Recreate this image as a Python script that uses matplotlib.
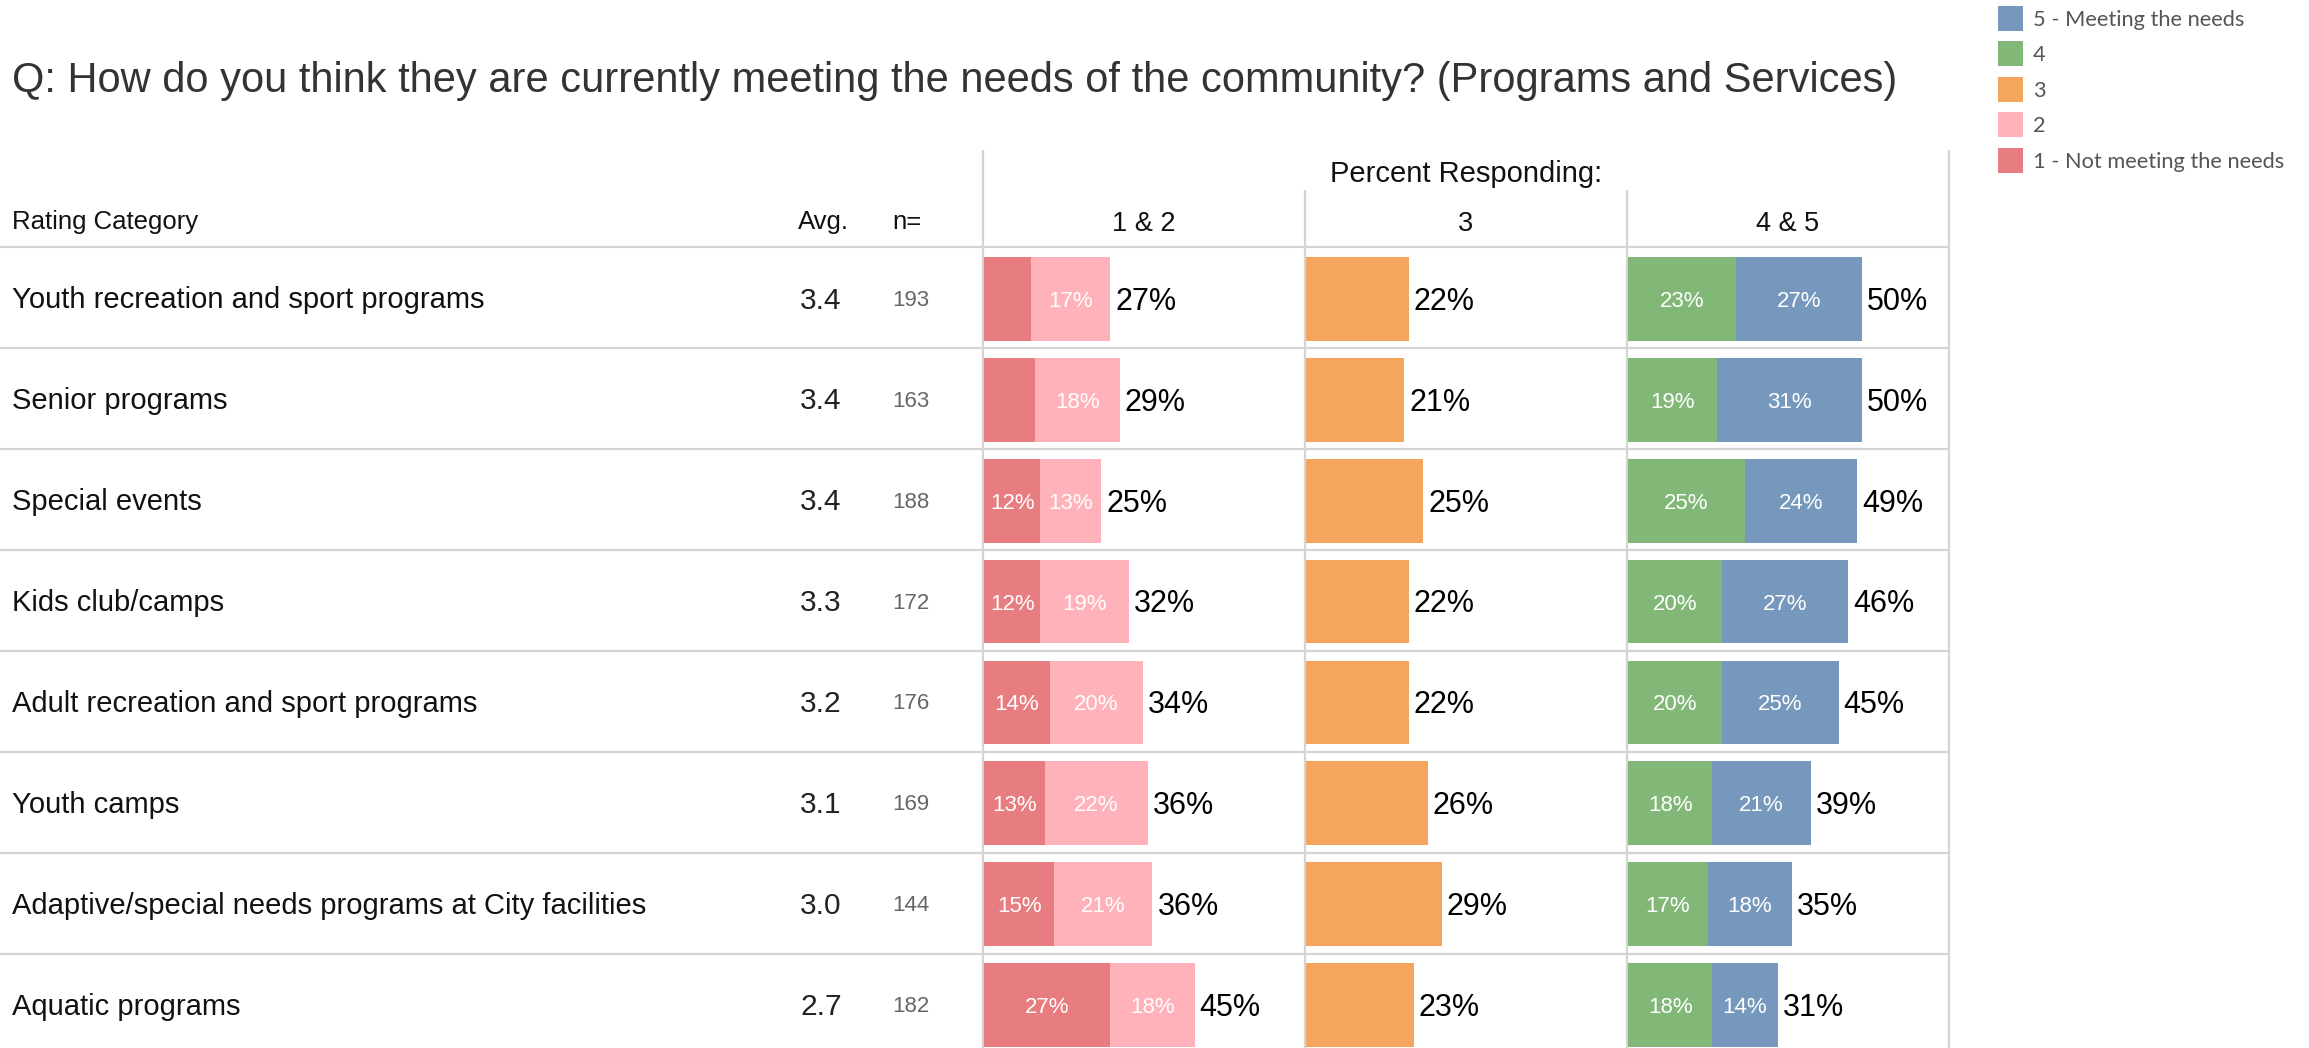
import matplotlib
matplotlib.use("Agg")
import matplotlib.pyplot as plt
from matplotlib.patches import Rectangle

plt.rcParams['font.family'] = ['Liberation Sans', 'DejaVu Sans']

# --- datos -------------------------------------------------------------------
title = "Q: How do you think they are currently meeting the needs of the community? (Programs and Services)"

categories = ["Youth recreation and sport programs",
              "Senior programs",
              "Special events",
              "Kids club/camps",
              "Adult recreation and sport programs",
              "Youth camps",
              "Adaptive/special needs programs at City facilities",
              "Aquatic programs"]
avg = [3.4, 3.4, 3.4, 3.3, 3.2, 3.1, 3.0, 2.7]
n_resp = [193, 163, 188, 172, 176, 169, 144, 182]

r1 = [10, 11, 12, 12, 14, 13, 15, 27]   # 1 - Not meeting the needs
r2 = [17, 18, 13, 19, 20, 22, 21, 18]   # 2
r3 = [22, 21, 25, 22, 22, 26, 29, 23]   # 3
r4 = [23, 19, 25, 20, 20, 18, 17, 18]   # 4
r5 = [27, 31, 24, 27, 25, 21, 18, 14]   # 5 - Meeting the needs
tot_12 = [27, 29, 25, 32, 34, 36, 36, 45]
tot_45 = [50, 50, 49, 46, 45, 39, 35, 31]

panel_titles = ["1 & 2", "3", "4 & 5"]
legend_labels = ["5 - Meeting the needs", "4", "3", "2", "1 - Not meeting the needs"]

c1, c2, c3, c4, c5 = "#E77D80", "#FFB2B9", "#F4A75C", "#81B777", "#7698BC"
legend_colors = [c5, c4, c3, c2, c1]

# --- layout (pixeles) --------------------------------------------------------
W, H, DPI = 2309, 1048, 100
top = 247.4          # linea bajo el encabezado
row_h = 100.9
nrows = len(categories)
xlines = [983, 1305, 1627, 1949]
grid_c = "#d4d4d4"


def cap(size):
    # mitad de la altura de mayusculas, en pixeles
    return 0.358 * size * DPI / 72


fig = plt.figure(figsize=(W / DPI, H / DPI), dpi=DPI)
bg = fig.add_axes([0, 0, 1, 1])
bg.set_xlim(0, W)
bg.set_ylim(H, 0)
bg.axis("off")

# titulo
bg.text(12, 77 + cap(30), title, fontsize=30, color="#333333", va="baseline")

# encabezados de la tabla
bg.text(1466, 172 + cap(21), "Percent Responding:", fontsize=21, color="#111111", ha="center", va="baseline")
for k, t in enumerate(panel_titles):
    xc = (xlines[k] + xlines[k + 1]) / 2
    bg.text(xc, 221 + cap(19.5), t, fontsize=19.5, color="#111111", ha="center", va="baseline")
bg.text(12, 220 + cap(18.5), "Rating Category", fontsize=18.5, color="#111111", va="baseline")
bg.text(798, 220 + cap(18.5), "Avg.", fontsize=18.5, color="#111111", va="baseline")
bg.text(892, 220 + cap(18.5), "n=", fontsize=18.5, color="#111111", va="baseline")

# lineas de la grilla
for k in range(nrows):
    y = top + k * row_h
    bg.plot([0, xlines[-1]], [y, y], color=grid_c, lw=1.6, solid_capstyle="butt")
for k, x in enumerate(xlines):
    y0 = 150 if k in (0, 3) else 190
    bg.plot([x, x], [y0, H], color=grid_c, lw=1.6, solid_capstyle="butt")

# columnas de texto por fila
for i, cat in enumerate(categories):
    yc = top + (i + 0.5) * row_h
    bg.text(12, yc + cap(21), cat, fontsize=21, color="#111111", va="baseline")
    bg.text(800, yc + cap(21.5), f"{avg[i]:.1f}", fontsize=21.5, color="#222222", va="baseline")
    bg.text(892, yc + cap(16), str(n_resp[i]), fontsize=16, color="#666666", va="baseline")

# leyenda
for k, (lab, col) in enumerate(zip(legend_labels, legend_colors)):
    yc = 18 + k * 35.5
    bg.add_patch(Rectangle((1998, yc - 12.5), 25, 25, facecolor=col, edgecolor="none"))
    bg.text(2033, yc + cap(15.7), lab, fontsize=15.7, color="#555555", va="baseline",
            family=["Lato", "DejaVu Sans"])

# --- paneles de barras -------------------------------------------------------
panel_w = xlines[1] - xlines[0]
axes = []
for k in range(3):
    ax = fig.add_axes([(xlines[k] + 1) / W, 1 - (top + nrows * row_h) / H,
                       panel_w / W, nrows * row_h / H])
    ax.set_xlim(0, 68.8)
    ax.set_ylim(nrows, 0)
    ax.axis("off")
    ax.patch.set_alpha(0)
    axes.append(ax)

ypos = [i + 0.51 for i in range(nrows)]
bh = 0.83


def seg_label(ax, x, y, v):
    ax.annotate(f"{v}%", (x, y), xytext=(0, -0.358 * 16), textcoords="offset points",
                ha="center", va="baseline", fontsize=16, color="white")


def tot_label(ax, x, y, v):
    ax.annotate(f"{v}%", (x, y), xytext=(3.6, -0.358 * 22), textcoords="offset points",
                ha="left", va="baseline", fontsize=22, color="black")


ax = axes[0]
ax.barh(ypos, r1, height=bh, color=c1)
ax.barh(ypos, r2, left=r1, height=bh, color=c2)
for i in range(nrows):
    if r1[i] >= 12:
        seg_label(ax, r1[i] / 2, ypos[i], r1[i])
    seg_label(ax, r1[i] + r2[i] / 2, ypos[i], r2[i])
    tot_label(ax, r1[i] + r2[i], ypos[i], tot_12[i])

ax = axes[1]
ax.barh(ypos, r3, height=bh, color=c3)
for i in range(nrows):
    tot_label(ax, r3[i], ypos[i], r3[i])

ax = axes[2]
ax.barh(ypos, r4, height=bh, color=c4)
ax.barh(ypos, r5, left=r4, height=bh, color=c5)
for i in range(nrows):
    seg_label(ax, r4[i] / 2, ypos[i], r4[i])
    seg_label(ax, r4[i] + r5[i] / 2, ypos[i], r5[i])
    tot_label(ax, r4[i] + r5[i], ypos[i], tot_45[i])

fig.savefig("out.png", dpi=DPI)
